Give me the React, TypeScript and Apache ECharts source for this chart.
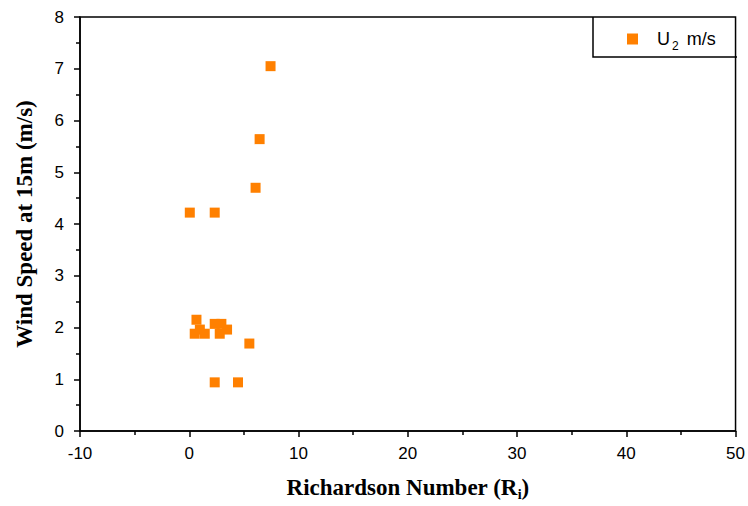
import React, { useEffect, useRef } from "react";
import * as echarts from "echarts";

const ri = [0.66, 0.5, 0.97, 1.42, 2.33, 2.94, 2.79, 3.46, 5.5, 2.33, 4.46, 0.05, 2.33, 6.07, 7.44, 6.44];
const u2 = [2.15, 1.88, 1.96, 1.88, 2.07, 2.07, 1.88, 1.96, 1.69, 0.94, 0.94, 4.22, 4.22, 4.7, 7.05, 5.64];
const seriesName = "U2 m/s";
const xTitle = "Richardson Number (R";
const yTitle = "Wind Speed at 15m (m/s)";

export default function App() {
  const ref = useRef<HTMLDivElement>(null);
  useEffect(() => {
    const chart = echarts.init(ref.current!, null, { renderer: "svg" });
    const black = "#000";
    const tickLabel = { fontFamily: "Liberation Sans", fontSize: 17, color: black };
    chart.setOption({
      animation: false,
      backgroundColor: "#fff",
      grid: { left: 80, right: 11, top: 17, bottom: 75, show: true, borderColor: black, borderWidth: 1.5, backgroundColor: "transparent" },
      legend: {
        data: [seriesName],
        left: 622,
        top: 25,
        itemWidth: 11,
        itemHeight: 11,
        icon: "rect",
        formatter: () => "{a|U}{b|2}{a| m/s}",
        textStyle: {
          padding: [0, 0, 0, 14],
          rich: {
            a: { fontFamily: "Liberation Sans", fontSize: 18, color: black },
            b: { fontFamily: "Liberation Sans", fontSize: 12, color: black, padding: [14, 3, 0, 2] },
          },
        },
      },
      graphic: [
        { type: "polyline", shape: { points: [[593, 17], [593, 57], [737, 57]] }, style: { stroke: black, lineWidth: 1.5, fill: "none" }, z: 10 },
      ],
      xAxis: {
        type: "value",
        min: -10,
        max: 50,
        interval: 10,
        name: "{m|" + xTitle + "}{s|i}{m|)}",
        nameLocation: "middle",
        nameGap: 42,
        nameTextStyle: {
          rich: {
            m: { fontFamily: "Liberation Serif", fontWeight: "bold", fontSize: 23, color: black },
            s: { fontFamily: "Liberation Serif", fontWeight: "bold", fontSize: 14, color: black, padding: [14, 0, 0, 0] },
          },
        },
        axisLine: { onZero: false, lineStyle: { color: black, width: 1.5 } },
        axisTick: { inside: false, length: 6, lineStyle: { color: black, width: 1.5 } },
        minorTick: { show: true, splitNumber: 2, length: 4, lineStyle: { color: black, width: 1.5 } },
        axisLabel: { ...tickLabel, margin: 14 },
        splitLine: { show: false },
      },
      yAxis: {
        type: "value",
        min: 0,
        max: 8,
        interval: 1,
        name: yTitle,
        nameLocation: "middle",
        nameGap: 44,
        nameTextStyle: { fontFamily: "Liberation Serif", fontWeight: "bold", fontSize: 23, color: black },
        axisLine: { onZero: false, lineStyle: { color: black, width: 1.5 } },
        axisTick: { inside: false, length: 6, lineStyle: { color: black, width: 1.5 } },
        minorTick: { show: true, splitNumber: 2, length: 4, lineStyle: { color: black, width: 1.5 } },
        axisLabel: { ...tickLabel, margin: 16 },
        splitLine: { show: false },
      },
      series: [
        {
          name: seriesName,
          type: "scatter",
          symbol: "rect",
          symbolSize: 10,
          itemStyle: { color: "#ff8000", opacity: 1 },
          data: ri.map((x, i) => [x, u2[i]]),
        },
      ],
    });
    return () => chart.dispose();
  }, []);
  return <div ref={ref} style={{ width: 748, height: 506, position: "absolute", left: 0, top: 0 }} />;
}
